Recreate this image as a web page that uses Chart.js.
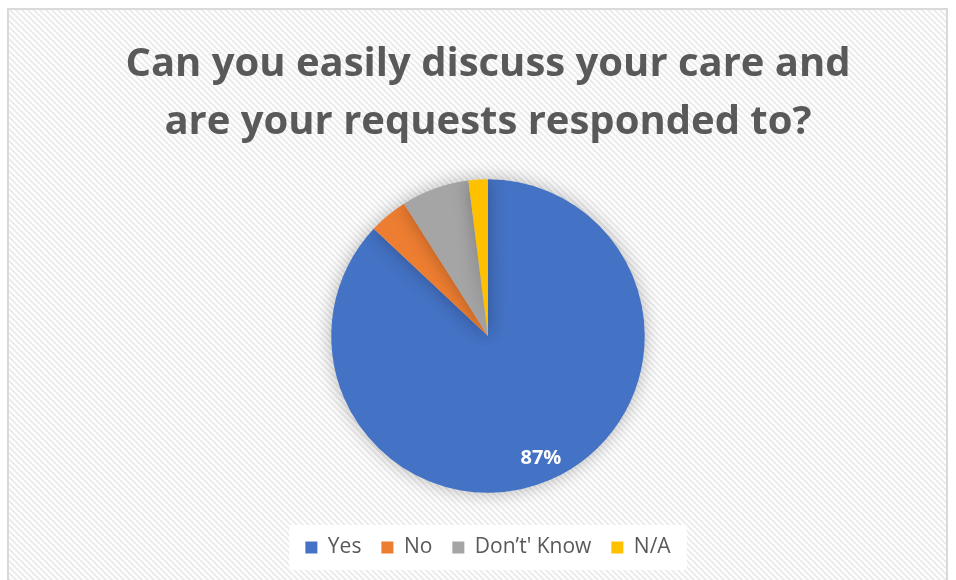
<!DOCTYPE html>
<html>
<head>
<meta charset="utf-8">
<script src="https://cdn.jsdelivr.net/npm/chart.js@4/dist/chart.umd.min.js"></script>
<style>
  html, body { margin: 0; padding: 0; background: #fff; }
  #wrap { width: 956px; height: 580px; }
</style>
</head>
<body>
<div id="wrap"><canvas id="myChart" width="956" height="580"></canvas></div>
<script>
// answers to the survey question, share of responses in percent
const answers = ['Yes', 'No', 'Don\u2019t\' Know', 'N/A'];
const shares = [87, 4, 7, 2];
const sliceColours = ['#4472C4', '#ED7D31', '#A5A5A5', '#FFC000'];
const titleLines = ['Can you easily discuss your care and', 'are your requests responded to?'];

// light diagonal hatching like the office chart style
function makeHatch() {
  var c = document.createElement('canvas');
  c.width = 6; c.height = 6;
  var g = c.getContext('2d');
  g.fillStyle = '#ffffff';
  g.fillRect(0, 0, 6, 6);
  g.strokeStyle = '#ececec';
  g.lineWidth = 2;
  g.beginPath();
  g.moveTo(-1, -1); g.lineTo(7, 7);
  g.moveTo(-4, 2); g.lineTo(4, 10);
  g.moveTo(2, -4); g.lineTo(10, 4);
  g.stroke();
  return g.createPattern(c, 'repeat');
}

const backdrop = {
  id: 'backdrop',
  beforeDraw(chart) {
    var ctx = chart.ctx;
    ctx.save();
    ctx.fillStyle = '#ffffff';
    ctx.fillRect(0, 0, chart.width, chart.height);
    ctx.fillStyle = makeHatch();
    ctx.fillRect(8, 9, chart.width - 17, chart.height);
    ctx.strokeStyle = '#d9d9d9';
    ctx.lineWidth = 2;
    ctx.strokeRect(8, 9, chart.width - 17, chart.height + 10);
    // white box behind the legend items
    var boxes = chart.legend ? chart.legend.legendHitBoxes : [];
    if (boxes.length) {
      var l = Math.min.apply(null, boxes.map(function (b) { return b.left; }));
      var r = Math.max.apply(null, boxes.map(function (b) { return b.left + b.width; }));
      var t = boxes[0].top;
      ctx.fillStyle = '#ffffff';
      ctx.fillRect(l - 16, t - 12, r - l + 32, boxes[0].height + 24);
    }
    ctx.restore();
  },
  beforeDatasetsDraw(chart) {
    var ctx = chart.ctx;
    ctx.save();
    ctx.shadowColor = 'rgba(0,0,0,0.28)';
    ctx.shadowBlur = 18;
  },
  afterDatasetsDraw(chart) {
    var ctx = chart.ctx;
    ctx.restore();
    // percentage label of the big slice (the small ones are white on white in the original)
    var meta = chart.getDatasetMeta(0);
    ctx.save();
    ctx.font = 'bold 20px "Open Sans"';
    ctx.fillStyle = '#ffffff';
    ctx.textAlign = 'center';
    ctx.textBaseline = 'middle';
    var arc = meta.data[0];
    var p = arc.getProps(['x', 'y', 'startAngle', 'endAngle', 'outerRadius'], true);
    var mid = (p.startAngle + p.endAngle) / 2;
    ctx.fillText(shares[0] + '%', p.x + Math.cos(mid) * p.outerRadius * 0.85, p.y + Math.sin(mid) * p.outerRadius * 0.85);
    ctx.restore();
  }
};

const data = {
  labels: answers,
  datasets: [{
    data: shares,
    backgroundColor: sliceColours,
    borderWidth: 0,
    radius: '86.6%'
  }]
};

const config = {
  type: 'pie',
  data: data,
  options: {
    responsive: false,
    animation: false,
    layout: { padding: { left: 30, right: 10, top: 0, bottom: 12 } },
    plugins: {
      title: {
        display: true,
        text: titleLines,
        color: '#595959',
        font: { family: '"Open Sans"', size: 40, weight: 'bold', lineHeight: 1.45 },
        padding: { top: 36, bottom: 3 }
      },
      legend: {
        position: 'bottom',
        labels: {
          color: '#595959',
          font: { family: '"Open Sans"', size: 21 },
          boxWidth: 12,
          boxHeight: 12,
          padding: 20
        }
      },
      tooltip: { enabled: false }
    }
  },
  plugins: [backdrop]
};

var myChart = new Chart(document.getElementById('myChart'), config);
</script>
</body>
</html>
